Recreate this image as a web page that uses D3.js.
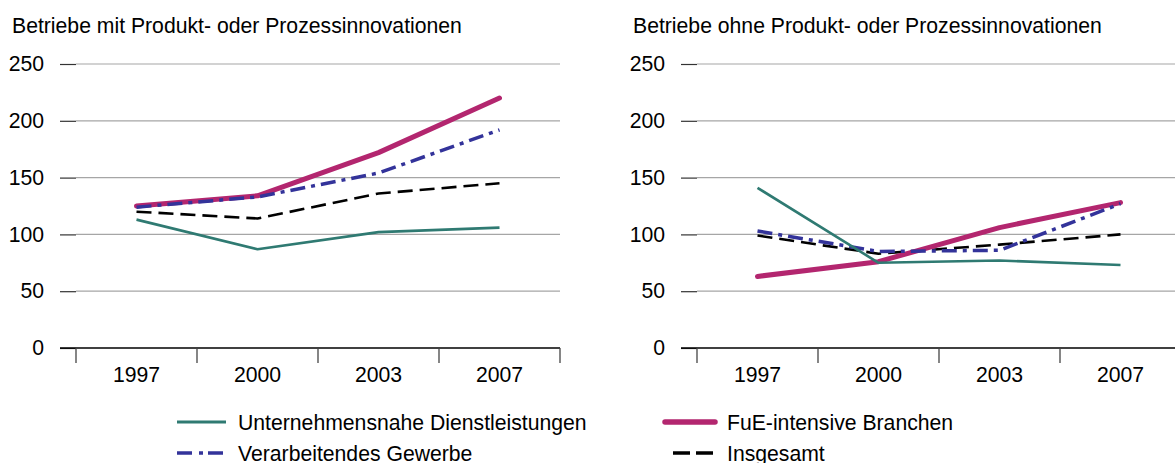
<!DOCTYPE html>
<html>
<head>
<meta charset="utf-8">
<script src="https://cdn.jsdelivr.net/npm/d3@7"></script>
<style>
  html, body { margin: 0; padding: 0; background: #fff; }
  svg { display: block; font-family: "Liberation Sans", Arial, sans-serif; }
</style>
</head>
<body>
<svg id="chart" width="1175" height="463"></svg>
<script>
// ----------------------
// data
// ----------------------
const years = ["1997", "2000", "2003", "2007"];
const yTicks = [0, 50, 100, 150, 200, 250];

const panelTitles = [
  "Betriebe mit Produkt- oder Prozessinnovationen",
  "Betriebe ohne Produkt- oder Prozessinnovationen"
];

// left panel (mit Innovationen)
const dienstMit = [113, 87, 102, 106];
const fueMit = [125, 134, 172, 220];
const verarbMit = [124, 133, 154, 192];
const gesamtMit = [120, 114, 136, 145];

// right panel (ohne Innovationen)
const dienstOhne = [141, 75, 77, 73];
const fueOhne = [63, 76, 106, 128];
const verarbOhne = [103, 85, 86, 127];
const gesamtOhne = [99, 83, 91, 100];

const seriesNames = [
  "Unternehmensnahe Dienstleistungen",
  "FuE-intensive Branchen",
  "Verarbeitendes Gewerbe",
  "Insgesamt"
];

// ----------------------
// styles
// ----------------------
const styles = {
  "Unternehmensnahe Dienstleistungen": { color: "#2f7a72", width: 2.6, dash: null },
  "FuE-intensive Branchen": { color: "#b3266f", width: 5, dash: null },
  "Verarbeitendes Gewerbe": { color: "#33339a", width: 3.5, dash: "15,6,4,6" },
  "Insgesamt": { color: "#000000", width: 2.6, dash: "15,7" }
};
// draw order (bottom to top)
const drawOrder = ["Insgesamt", "FuE-intensive Branchen", "Verarbeitendes Gewerbe", "Unternehmensnahe Dienstleistungen"];

const svg = d3.select("#chart");
const fontSize = 21.2;

const y = d3.scaleLinear().domain([0, 250]).range([348, 64]);

function drawPanel(cfg) {
  const g = svg.append("g");
  const x = d3.scaleBand().domain(years).range([cfg.x0, cfg.x0 + 484]);

  // title
  g.append("text")
    .attr("x", cfg.x0 - 64)
    .attr("y", 32.5)
    .attr("font-size", fontSize)
    .attr("fill", "#000")
    .text(cfg.title);

  // gridlines
  g.selectAll("line.grid")
    .data(yTicks.filter(d => d > 0))
    .enter().append("line")
    .attr("class", "grid")
    .attr("x1", cfg.x0)
    .attr("x2", cfg.xEnd)
    .attr("y1", d => y(d))
    .attr("y2", d => y(d))
    .attr("stroke", "#a6a6a6")
    .attr("stroke-width", 1.2);

  // y axis (ticks + labels only)
  const yAxisG = g.append("g")
    .attr("transform", `translate(${cfg.x0},0)`)
    .call(d3.axisLeft(y).tickValues(yTicks).tickSize(16).tickPadding(16));
  yAxisG.select(".domain").remove();
  yAxisG.selectAll(".tick line").attr("stroke", "#333").attr("stroke-width", 1.2);
  yAxisG.selectAll(".tick text")
    .attr("font-size", fontSize)
    .attr("font-family", "'Liberation Sans', Arial, sans-serif")
    .attr("fill", "#000");

  // x axis line
  g.append("line")
    .attr("x1", cfg.x0 - 16)
    .attr("x2", cfg.xEnd)
    .attr("y1", y(0))
    .attr("y2", y(0))
    .attr("stroke", "#000")
    .attr("stroke-width", 1.5);

  // x ticks at band boundaries
  const bounds = years.map(d => x(d)).concat([x.range()[1]]);
  g.selectAll("line.xtick")
    .data(bounds)
    .enter().append("line")
    .attr("class", "xtick")
    .attr("x1", d => d)
    .attr("x2", d => d)
    .attr("y1", y(0))
    .attr("y2", y(0) + 15)
    .attr("stroke", "#444")
    .attr("stroke-width", 1.3);

  // x labels
  g.selectAll("text.xlab")
    .data(years)
    .enter().append("text")
    .attr("class", "xlab")
    .attr("x", d => x(d) + x.bandwidth() / 2)
    .attr("y", 382)
    .attr("text-anchor", "middle")
    .attr("font-size", fontSize)
    .text(d => d);

  // lines
  const line = d3.line()
    .x((d, i) => x(years[i]) + x.bandwidth() / 2)
    .y(d => y(d));

  drawOrder.forEach(name => {
    const s = styles[name];
    g.append("path")
      .datum(cfg.data[name])
      .attr("d", line)
      .attr("fill", "none")
      .attr("stroke", s.color)
      .attr("stroke-width", s.width)
      .attr("stroke-linecap", name === "FuE-intensive Branchen" ? "round" : "butt")
      .attr("stroke-linejoin", "round")
      .attr("stroke-dasharray", s.dash);
  });
}

drawPanel({
  x0: 76, xEnd: 560, title: panelTitles[0],
  data: {
    "Unternehmensnahe Dienstleistungen": dienstMit,
    "FuE-intensive Branchen": fueMit,
    "Verarbeitendes Gewerbe": verarbMit,
    "Insgesamt": gesamtMit
  }
});

drawPanel({
  x0: 697, xEnd: 1175, title: panelTitles[1],
  data: {
    "Unternehmensnahe Dienstleistungen": dienstOhne,
    "FuE-intensive Branchen": fueOhne,
    "Verarbeitendes Gewerbe": verarbOhne,
    "Insgesamt": gesamtOhne
  }
});

// ----------------------
// legend
// ----------------------
const legendPos = [
  { x1: 177, x2: 226, y: 422 },
  { x1: 665, x2: 715, y: 422 },
  { x1: 177, x2: 226, y: 453 },
  { x1: 673, x2: 715, y: 453 }
];

const legend = svg.append("g");
seriesNames.forEach((name, i) => {
  const s = styles[name];
  const p = legendPos[i];
  legend.append("line")
    .attr("x1", p.x1)
    .attr("x2", p.x2)
    .attr("y1", p.y)
    .attr("y2", p.y)
    .attr("stroke", s.color)
    .attr("stroke-width", name === "FuE-intensive Branchen" ? 5.5 : (name === "Unternehmensnahe Dienstleistungen" ? 3.2 : 3.5))
    .attr("stroke-linecap", name === "FuE-intensive Branchen" ? "round" : "butt")
    .attr("stroke-dasharray", name === "Insgesamt" ? "17,6" : (name === "Verarbeitendes Gewerbe" ? "15,7,4,5" : null));
  legend.append("text")
    .attr("x", p.x2 + 12)
    .attr("y", p.y + 7.5)
    .attr("font-size", fontSize)
    .text(name);
});
</script>
</body>
</html>
